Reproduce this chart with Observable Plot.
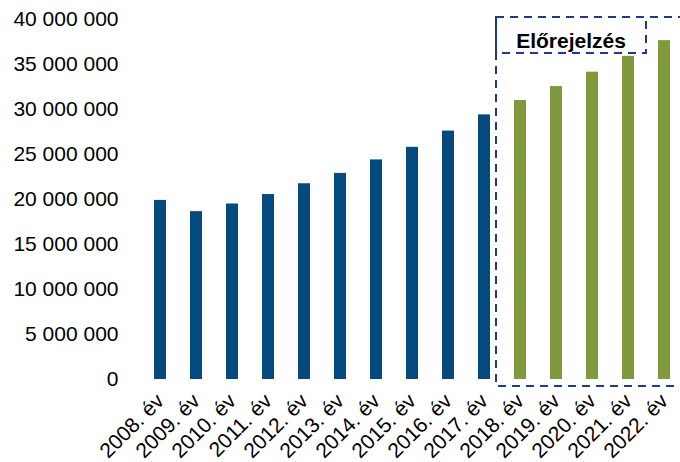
<!DOCTYPE html>
<html>
<head>
<meta charset="utf-8">
<script src="https://cdn.jsdelivr.net/npm/d3@7"></script>
<script src="https://cdn.jsdelivr.net/npm/@observablehq/plot@0.6"></script>
<style>
  html, body { margin: 0; padding: 0; background: #fff; }
  #chart svg { display: block; }
</style>
</head>
<body>
<div id="chart"></div>
<script>
// ---- data ----
const years = ["2008. év", "2009. év", "2010. év", "2011. év", "2012. év", "2013. év", "2014. év",
  "2015. év", "2016. év", "2017. év", "2018. év", "2019. év", "2020. év", "2021. év", "2022. év"];
const values = [19900000, 18650000, 19500000, 20550000, 21750000, 22900000, 24400000,
  25800000, 27600000, 29400000, 31000000, 32550000, 34150000, 35900000, 37650000];
const kinds = ["tény", "tény", "tény", "tény", "tény", "tény", "tény", "tény", "tény", "tény",
  "előrejelzés", "előrejelzés", "előrejelzés", "előrejelzés", "előrejelzés"];
const yTicks = [0, 5000000, 10000000, 15000000, 20000000, 25000000, 30000000, 35000000, 40000000];
const forecastLabel = "Előrejelzés";
const forecastFirst = "2018. év";
const forecastLast = "2022. év";

const rows = years.map((y, i) => ({year: y, value: values[i], kind: kinds[i]}));

const fmt = (v) => d3.format(",")(v).replace(/,/g, " ");
const PAD = 0.68;

// annotation: dashed forecast area + label box, positioned through the scales
function forecastBox(index, scales) {
  const X = typeof scales.x === "function" ? scales.x : scales.scales.x;
  const Y = typeof scales.y === "function" ? scales.y : scales.scales.y;
  const step = X(years[1]) - X(years[0]);
  const bw = step * (1 - PAD);
  const left = X(forecastFirst) - step / 2;
  const right = X(forecastLast) + bw + step / 2;
  const top = Y(40000000) - 2;
  const bottom = Y(0) + 7;
  const labelRight = left + 150;
  const labelBottom = top + 36;
  const g = d3.create("svg:g");
  const dash = {stroke: "#1f3b87", "stroke-width": 2, "stroke-dasharray": "8,6", fill: "none"};
  const r1 = g.append("rect").attr("x", left).attr("y", top).attr("width", right - left).attr("height", bottom - top);
  const r2 = g.append("rect").attr("x", left).attr("y", top).attr("width", labelRight - left).attr("height", labelBottom - top);
  for (const r of [r1, r2]) for (const [k, v] of Object.entries(dash)) r.attr(k, v);
  g.append("text")
    .attr("x", (left + labelRight) / 2)
    .attr("y", top + 31)
    .attr("text-anchor", "middle")
    .attr("font-weight", "bold")
    .attr("font-size", 21)
    .attr("fill", "#000")
    .text(forecastLabel);
  return g.node();
}

const chart = Plot.plot({
  width: 680,
  height: 462,
  marginTop: 19,
  marginBottom: 83,
  marginLeft: 138,
  marginRight: -6,
  style: {fontFamily: "'Liberation Sans', Arial, sans-serif", fontSize: "21px", color: "#000", background: "#fff"},
  x: {domain: years, paddingInner: PAD, paddingOuter: PAD / 2, label: null,
      tickSize: 0, tickPadding: 18, tickRotate: -45},
  y: {domain: [0, 40000000], ticks: yTicks, tickFormat: fmt, label: null, tickSize: 0, tickPadding: 20},
  color: {domain: ["tény", "előrejelzés"], range: ["#054a7e", "#7f9a3d"]},
  marks: [
    Plot.barY(rows, {x: "year", y: "value", fill: "kind"}),
    forecastBox
  ]
});
document.getElementById("chart").appendChild(chart);
</script>
</body>
</html>
